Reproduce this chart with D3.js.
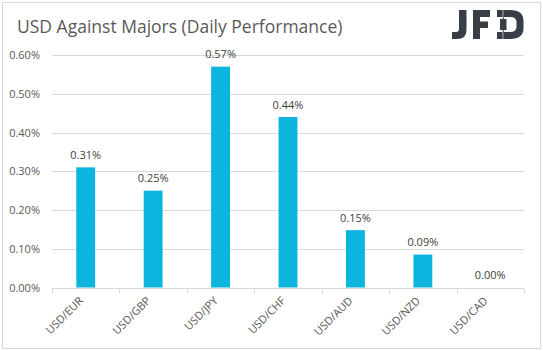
<!DOCTYPE html>
<html><head><meta charset="utf-8">
<script src="https://cdn.jsdelivr.net/npm/d3@7/dist/d3.min.js"></script>
<style>html,body{margin:0;padding:0;background:#fff;}svg{display:block;}</style>
</head><body>
<svg id="c" width="543" height="351"></svg>
<script>
const categories = ["USD/EUR","USD/GBP","USD/JPY","USD/CHF","USD/AUD","USD/NZD","USD/CAD"];
const values = [0.0031,0.0025,0.0057,0.0044,0.00148,0.00085,0.0000];
const dataLabels = ["0.31%","0.25%","0.57%","0.44%","0.15%","0.09%","0.00%"];
const yTicks = [0,0.001,0.002,0.003,0.004,0.005,0.006];
const title = "USD Against Majors (Daily Performance)";

const svg = d3.select("#c");
const font = "'Open Sans', 'Segoe UI', sans-serif";
const barColor = "#0db5de";
const gridColor = "#d9d9d9";

svg.append("rect").attr("x",2.5).attr("y",2.5).attr("width",538).attr("height",346)
  .attr("fill","#fff").attr("stroke","#d9d9d9").attr("stroke-width",1);

svg.append("text").attr("x",17).attr("y",33).attr("font-family",font).attr("font-size",17.5)
  .attr("fill","#595959").text(title);

const x = d3.scaleBand().domain(categories).range([52,524]).paddingInner(0.72).paddingOuter(0.36);
const y = d3.scaleLinear().domain([0,0.006]).range([287.5,55]);

// grid
const yAxis = d3.axisLeft(y).tickValues(yTicks).tickFormat(d3.format(".2%")).tickSize(0).tickPadding(12);
const gy = svg.append("g").attr("transform","translate(52,0)");
gy.selectAll("line.grid").data(yTicks.filter(d=>d>0)).join("line")
  .attr("x1",0).attr("x2",472).attr("y1",d=>Math.round(y(d))+0.5).attr("y2",d=>Math.round(y(d))+0.5)
  .attr("stroke",gridColor);
const ga = svg.append("g").attr("transform","translate(52,0)").call(yAxis);
ga.select(".domain").remove();
ga.selectAll("text").attr("font-family",font).attr("font-size",11).attr("fill","#595959");

// bars
svg.append("g").selectAll("rect").data(values).join("rect")
  .attr("x",(d,i)=>x(categories[i])).attr("width",x.bandwidth())
  .attr("y",d=>y(d)).attr("height",d=>y(0)-y(d)).attr("fill",barColor);

// data labels
svg.append("g").selectAll("text").data(values).join("text")
  .attr("x",(d,i)=>x(categories[i])+x.bandwidth()/2).attr("y",d=>y(d)-8.5)
  .attr("text-anchor","middle").attr("font-family",font).attr("font-size",11).attr("fill","#404040")
  .text((d,i)=>dataLabels[i]);

// x axis
const base = Math.round(y(0))+0.5;
const gx = svg.append("g");
gx.append("line").attr("x1",52).attr("x2",524).attr("y1",base).attr("y2",base).attr("stroke",gridColor);
const bounds = categories.map(c=>x(c)-x.step()*x.paddingInner()/2).concat([524]);
gx.selectAll("line.t").data(bounds).join("line").attr("class","t")
  .attr("x1",d=>Math.round(d)+0.5).attr("x2",d=>Math.round(d)+0.5).attr("y1",base).attr("y2",base+5).attr("stroke",gridColor);
gx.selectAll("text").data(categories).join("text")
  .attr("transform",d=>`translate(${x(d)+x.bandwidth()/2-2},${base+13}) rotate(-45)`)
  .attr("text-anchor","end").attr("font-family",font).attr("font-size",11).attr("fill","#595959")
  .text(d=>d);

// logo
const logo = svg.append("g").attr("fill","#373e46");
logo.append("path").attr("d","M459,10 H466.5 V30 Q466.5,39 457,39 H452 V32 H456 Q459,32 459,29 Z");
logo.append("path").attr("d","M473,10 H490 V17 H480 V21.5 H488 V28 H480 V39 H473 Z");
logo.append("path").attr("d","M497,10 H510 Q523.5,10 523.5,21 V28 Q523.5,39 510,39 H497 V32 H510 Q516.5,32 516.5,27 V22 Q516.5,17 510,17 H497 Z");
logo.append("rect").attr("x",502.5).attr("y",10).attr("width",1.3).attr("height",29).attr("fill","#fff");
logo.append("rect").attr("x",502.7).attr("y",10).attr("width",1).attr("height",29);
logo.append("rect").attr("x",500).attr("y",19).attr("width",6.5).attr("height",11);
</script>
</body></html>
